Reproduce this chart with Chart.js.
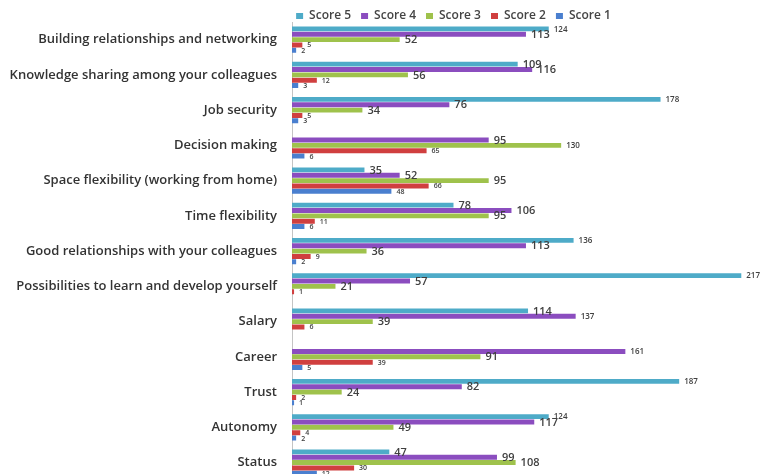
<!DOCTYPE html>
<html>
<head>
<meta charset="utf-8">
<script src="https://cdn.jsdelivr.net/npm/chart.js@4/dist/chart.umd.min.js"></script>
<style>
    html, body { margin: 0; padding: 0; background: #fff; overflow: hidden; }
</style>
</head>
<body>
<canvas id="chart-bar-scores" width="762" height="488"></canvas>
<script>
'use strict';
var categories = [
    'Building relationships and networking',
    'Knowledge sharing among your colleagues',
    'Job security',
    'Decision making',
    'Space flexibility (working from home)',
    'Time flexibility',
    'Good relationships with your colleagues',
    'Possibilities to learn and develop yourself',
    'Salary',
    'Career',
    'Trust',
    'Autonomy',
    'Status'
];
var score5 = [124, 109, 178, 0, 35, 78, 136, 217, 114, 0, 187, 124, 47];
var score4 = [113, 116, 76, 95, 52, 106, 113, 57, 137, 161, 82, 117, 99];
var score3 = [52, 56, 34, 130, 95, 95, 36, 21, 39, 91, 24, 49, 108];
var score2 = [5, 12, 5, 65, 66, 11, 9, 1, 6, 39, 2, 4, 30];
var score1 = [2, 3, 3, 6, 48, 6, 2, 0, 0, 5, 1, 2, 12];

Chart.defaults.font.family = '"Open Sans", "DejaVu Sans", sans-serif';

// [ value labels ] next to each bar end
var barValueLabels = {
    id: 'barValueLabels',
    afterDatasetsDraw: function(chart) {
        var ctx = chart.ctx;
        ctx.save();
        ctx.textBaseline = 'middle';
        ctx.fillStyle = '#404040';
        chart.data.datasets.forEach(function(ds, i) {
            chart.getDatasetMeta(i).data.forEach(function(bar, j) {
                var v = ds.data[j];
                if (!v) return;
                var size = i >= 3 ? 7 : (v >= 120 ? 8 : 11);
                ctx.font = '600 ' + size + 'px "Open Sans"';
                ctx.fillText(String(v), bar.x + 5, bar.y + 0.5);
            });
        });
        ctx.restore();
    }
};

// legend sits a bit right of the canvas centre
var legendShift = {
    id: 'legendShift',
    afterLayout: function(chart) {
        chart.legend.left = 145;
    }
};

var bar = document.getElementById('chart-bar-scores').getContext('2d');
var myBarChart = new Chart(bar, {
    type: 'bar',
    data: {
        labels: categories,
        datasets: [
            { label: 'Score 5', data: score5, backgroundColor: '#4eabc8' },
            { label: 'Score 4', data: score4, backgroundColor: '#8b4dbf' },
            { label: 'Score 3', data: score3, backgroundColor: '#9fc24c' },
            { label: 'Score 2', data: score2, backgroundColor: '#d03f3f' },
            { label: 'Score 1', data: score1, backgroundColor: '#4a7fcf' }
        ]
    },
    options: {
        indexAxis: 'y',
        responsive: false,
        animation: false,
        barPercentage: 0.92,
        categoryPercentage: 0.76,
        layout: { padding: 0 },
        plugins: {
            tooltip: { enabled: false },
            legend: {
                position: 'top',
                maxHeight: 22,
                labels: {
                    boxWidth: 7,
                    boxHeight: 6,
                    padding: 10,
                    color: '#444',
                    font: { size: 12, weight: '600' }
                }
            }
        },
        scales: {
            x: {
                display: false,
                min: 0,
                max: 227
            },
            y: {
                afterFit: function(scale) { scale.width = 292; },
                grid: {
                    display: true,
                    drawOnChartArea: false,
                    drawTicks: true,
                    tickLength: 15,
                    tickColor: 'rgba(0,0,0,0)'
                },
                border: { display: true, color: '#c4c4c4', width: 1 },
                ticks: {
                    padding: 0,
                    color: '#333',
                    font: { size: 13, weight: '600' }
                }
            }
        }
    },
    plugins: [barValueLabels, legendShift]
});
</script>
</body>
</html>
